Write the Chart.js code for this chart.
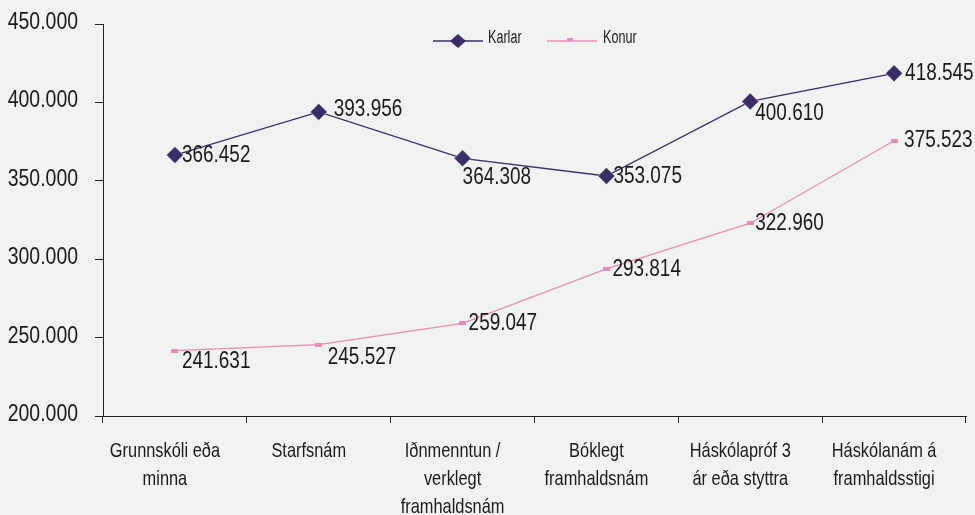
<!DOCTYPE html>
<html>
<head>
<meta charset="utf-8">
<script src="https://cdn.jsdelivr.net/npm/chart.js@4"></script>
<style>
  body { margin: 0; background: #f1f2f2; }
  #wrap { width: 975px; height: 515px; }
</style>
</head>
<body>
<div id="wrap"><canvas id="launChart"></canvas></div>
<script>
// data
const categories = [
    ['Grunnskóli eða', 'minna'],
    ['Starfsnám'],
    ['Iðnmenntun /', 'verklegt', 'framhaldsnám'],
    ['Bóklegt', 'framhaldsnám'],
    ['Háskólapróf 3', 'ár eða styttra'],
    ['Háskólanám á', 'framhaldsstigi']
];
const karlar = [366452, 393956, 364308, 353075, 400610, 418545];
const konur = [241631, 245527, 259047, 293814, 322960, 375523];
const yTicks = [200000, 250000, 300000, 350000, 400000, 450000];

// label offsets from the point (style only)
const karlarLabelOffset = [[7, 0], [15, -3], [0, 19], [7, 0], [5, 12], [11, 0]];
const konurLabelOffset = [[7, 11], [9, 13], [6, 0], [6, 0], [5, 0], [10, 0]];

const FONT = '"Liberation Sans", Arial, sans-serif';
const KARL = '#3c2d69';
const KONA = '#e98bb6';
const INK = '#1a1a1a';

function fmt(v) {
    return v.toString().replace(/\B(?=(\d{3})+(?!\d))/g, '.');
}

// narrow text: the original font is a tall condensed face
function narrowText(ctx, text, x, y, size, align, baseline, sx) {
    ctx.save();
    ctx.font = size + 'px ' + FONT;
    ctx.fillStyle = INK;
    ctx.textAlign = align;
    ctx.textBaseline = baseline;
    ctx.translate(x, y);
    ctx.scale(sx, 1);
    ctx.fillText(text, 0, 0);
    ctx.restore();
}

// little flat pink marker
const pinkMark = document.createElement('canvas');
pinkMark.width = 7; pinkMark.height = 4;
const pm = pinkMark.getContext('2d');
pm.fillStyle = KONA;
pm.fillRect(0, 0, 7, 4);

const bgPlugin = {
    id: 'bg',
    beforeDraw(c) {
        const ctx = c.ctx;
        ctx.save();
        ctx.fillStyle = '#f1f2f2';
        ctx.fillRect(0, 0, c.width, c.height);
        ctx.restore();
    }
};

const axisTextPlugin = {
    id: 'axisText',
    afterDraw(c) {
        const ctx = c.ctx;
        const ys = c.scales.y, xs = c.scales.x;
        ys.ticks.forEach(t => {
            narrowText(ctx, fmt(t.value), 78, ys.getPixelForValue(t.value) + 5, 24, 'right', 'alphabetic', 0.81);
        });
        c.data.labels.forEach((lines, i) => {
            const x = xs.getPixelForTick(i) - 10;
            lines.forEach((ln, k) => {
                narrowText(ctx, ln, x, 457 + k * 28, 21, 'center', 'alphabetic', 0.78);
            });
        });
    }
};

const labelPlugin = {
    id: 'pointLabels',
    afterDatasetsDraw(c) {
        const ctx = c.ctx;
        const offs = [karlarLabelOffset, konurLabelOffset];
        c.data.datasets.forEach((ds, i) => {
            c.getDatasetMeta(i).data.forEach((pt, j) => {
                const o = offs[i][j];
                narrowText(ctx, fmt(ds.data[j]), pt.x + o[0], pt.y + o[1], 24, 'left', 'middle', 0.79);
            });
        });
    }
};

const legendPlugin = {
    id: 'ownLegend',
    afterDraw(c) {
        const ctx = c.ctx;
        ctx.save();
        ctx.lineWidth = 1.5;
        // Karlar
        ctx.strokeStyle = KARL;
        ctx.beginPath(); ctx.moveTo(433, 41); ctx.lineTo(483, 41); ctx.stroke();
        ctx.fillStyle = KARL;
        ctx.beginPath();
        ctx.moveTo(458, 34); ctx.lineTo(466, 41); ctx.lineTo(458, 48); ctx.lineTo(450, 41);
        ctx.closePath(); ctx.fill();
        // Konur
        ctx.strokeStyle = KONA;
        ctx.beginPath(); ctx.moveTo(547, 41); ctx.lineTo(597, 41); ctx.stroke();
        ctx.fillStyle = KONA;
        ctx.fillRect(567, 38, 6, 3);
        ctx.restore();
        narrowText(ctx, 'Karlar', 488, 43, 18, 'left', 'alphabetic', 0.7);
        narrowText(ctx, 'Konur', 603, 43, 18, 'left', 'alphabetic', 0.7);
    }
};

const ctx = document.getElementById('launChart').getContext('2d');
const chart = new Chart(ctx, {
    type: 'line',
    data: {
        labels: categories,
        datasets: [{
            label: 'Karlar',
            data: karlar,
            borderColor: KARL,
            backgroundColor: KARL,
            borderWidth: 1.3,
            pointStyle: 'rectRot',
            pointRadius: 8.5,
            pointBorderColor: '#ffffff',
            pointBorderWidth: 0.5,
            tension: 0
        }, {
            label: 'Konur',
            data: konur,
            borderColor: KONA,
            backgroundColor: KONA,
            borderWidth: 1.3,
            pointStyle: pinkMark,
            tension: 0
        }]
    },
    options: {
        responsive: true,
        maintainAspectRatio: false,
        animation: false,
        layout: { padding: { top: 24, right: 9, left: 0, bottom: 0 } },
        plugins: {
            legend: { display: false },
            tooltip: { enabled: false }
        },
        scales: {
            x: {
                offset: true,
                grid: {
                    offset: true,
                    drawOnChartArea: false,
                    tickLength: 7,
                    color: '#222'
                },
                border: { color: '#222', width: 1 },
                ticks: { display: false, autoSkip: false },
                afterFit(s) { s.height = 99; }
            },
            y: {
                min: yTicks[0],
                max: yTicks[yTicks.length - 1],
                afterBuildTicks(s) { s.ticks = yTicks.map(v => ({ value: v })); },
                grid: {
                    drawOnChartArea: false,
                    tickLength: 8,
                    color: '#222'
                },
                border: { color: '#222', width: 1 },
                ticks: { display: false },
                afterFit(s) { s.width = 103; }
            }
        }
    },
    plugins: [bgPlugin, labelPlugin, axisTextPlugin, legendPlugin]
});
</script>
</body>
</html>
